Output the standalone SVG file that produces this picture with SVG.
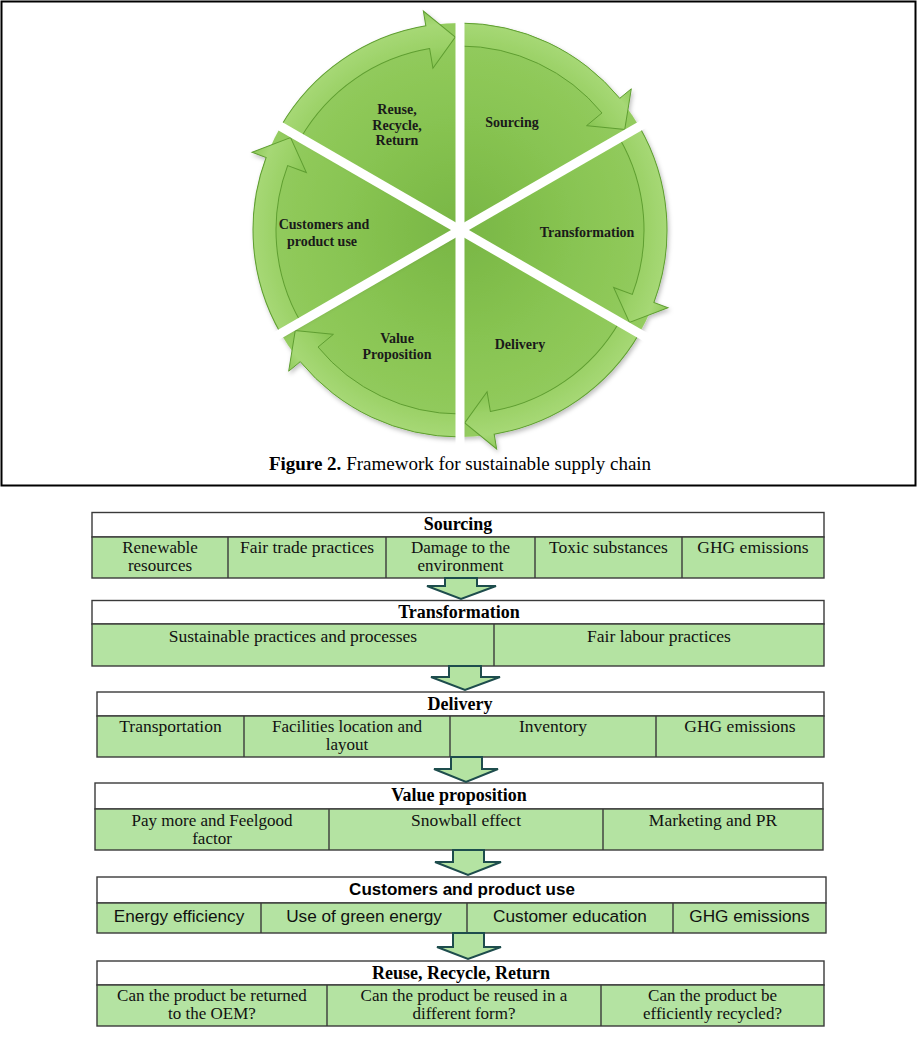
<svg xmlns="http://www.w3.org/2000/svg" width="917" height="1059" viewBox="0 0 917 1059">
<style>
.pt{font-family:"Liberation Serif","Times New Roman",serif;font-weight:bold;font-size:14px;fill:#1a1a1a;text-anchor:middle}
.hd{font-family:"Liberation Serif","Times New Roman",serif;font-weight:bold;font-size:18px;fill:#000;text-anchor:middle}
.cl{font-family:"Liberation Serif","Times New Roman",serif;font-size:17.5px;fill:#111;text-anchor:middle}
.cl2{font-family:"Liberation Serif","Times New Roman",serif;font-size:17px;fill:#111;text-anchor:middle}
.hds{font-family:"Liberation Sans",Arial,sans-serif;font-weight:bold;font-size:17px;fill:#000;text-anchor:middle}
.cls{font-family:"Liberation Sans",Arial,sans-serif;font-size:17.2px;fill:#111;text-anchor:middle}
.hbox{fill:#fff;stroke:#3a3a3a;stroke-width:1.4}
.cbox{fill:#b4e3a2;stroke:#3a3a3a;stroke-width:1.4}
.dv{stroke:#3a3a3a;stroke-width:1.4}
.arr{fill:#b4e3a2;stroke:#1e4d4d;stroke-width:2;stroke-linejoin:miter}
.wedge{fill:url(#wg)}
.band{fill:url(#bg);stroke:#5f9e31;stroke-width:1}
.gap{stroke:#fff;stroke-width:9}
</style>
<defs>
<radialGradient id="wg" gradientUnits="userSpaceOnUse" cx="460" cy="230" r="207">
<stop offset="0" stop-color="#78b644"/>
<stop offset="0.55" stop-color="#88c452"/>
<stop offset="1" stop-color="#94cc5f"/>
</radialGradient>
<radialGradient id="bg" gradientUnits="userSpaceOnUse" cx="460" cy="230" r="222">
<stop offset="0.74" stop-color="#86c451"/>
<stop offset="0.83" stop-color="#9bd167"/>
<stop offset="0.93" stop-color="#a6d875"/>
<stop offset="1" stop-color="#8fca5b"/>
</radialGradient>
<filter id="sh" x="-10%" y="-10%" width="120%" height="120%">
<feDropShadow dx="1.5" dy="2.5" stdDeviation="2" flood-color="#000" flood-opacity="0.25"/>
</filter>
<g id="sector">
<path class="wedge" d="M460,230 L460,23 A207,207 0 0 1 639.27,126.5 Z"/>
<path class="band" d="M460,23 A207,207 0 0 1 619.73,98.33 L631.30,88.79 L624.74,129.45 L586.55,125.68 L601.98,112.96 A184,184 0 0 0 460,46 Z"/>
</g>
</defs>
<rect x="0" y="0" width="917" height="1059" fill="#fff"/>
<rect x="1.5" y="1.5" width="914" height="484" fill="none" stroke="#000" stroke-width="2"/>

<g id="pie">
<g id="sec-sourcing" filter="url(#sh)"><use href="#sector"/></g>
<g id="sec-transformation" filter="url(#sh)"><use href="#sector" transform="rotate(60 460 230)"/></g>
<g id="sec-delivery" filter="url(#sh)"><use href="#sector" transform="rotate(120 460 230)"/></g>
<g id="sec-value" filter="url(#sh)"><use href="#sector" transform="rotate(180 460 230)"/></g>
<g id="sec-customers" filter="url(#sh)"><use href="#sector" transform="rotate(240 460 230)"/></g>
<g id="sec-reuse" filter="url(#sh)"><use href="#sector" transform="rotate(300 460 230)"/></g>
<g id="gaps">
<line class="gap" x1="460" y1="6" x2="460" y2="454"/>
<line class="gap" x1="266" y1="118" x2="654" y2="342"/>
<line class="gap" x1="266" y1="342" x2="654" y2="118"/>
</g>
<g id="pie-labels">
<text class="pt" x="397" y="114">Reuse,</text>
<text class="pt" x="397" y="129.5">Recycle,</text>
<text class="pt" x="397" y="145">Return</text>
<text class="pt" x="512" y="127">Sourcing</text>
<text class="pt" x="587" y="237">Transformation</text>
<text class="pt" x="520" y="349">Delivery</text>
<text class="pt" x="397" y="343">Value</text>
<text class="pt" x="397" y="359">Proposition</text>
<text class="pt" x="324" y="229">Customers and</text>
<text class="pt" x="322" y="246">product use</text>
</g>
</g>

<text id="caption" x="460" y="470" font-family="'Liberation Serif','Times New Roman',serif" font-size="19" text-anchor="middle" fill="#000"><tspan font-weight="bold">Figure 2.</tspan> Framework for sustainable supply chain</text>

<g id="t-sourcing">
<rect class="hbox" x="92" y="512.5" width="732" height="24.5"/>
<rect class="cbox" x="92" y="537" width="732" height="41"/>
<line class="dv" x1="228" y1="537" x2="228" y2="578"/>
<line class="dv" x1="386" y1="537" x2="386" y2="578"/>
<line class="dv" x1="535" y1="537" x2="535" y2="578"/>
<line class="dv" x1="682" y1="537" x2="682" y2="578"/>
<text class="hd" x="458" y="530">Sourcing</text>
<text class="cl2" x="160" y="552.5">Renewable</text>
<text class="cl2" x="160" y="571">resources</text>
<text class="cl" x="307" y="553">Fair trade practices</text>
<text class="cl2" x="460.5" y="552.5">Damage to the</text>
<text class="cl2" x="460.5" y="571">environment</text>
<text class="cl" x="608.5" y="553">Toxic substances</text>
<text class="cl" x="753" y="553">GHG emissions</text>
</g>

<g id="t-transformation">
<rect class="hbox" x="92" y="600.5" width="732" height="23.5"/>
<rect class="cbox" x="92" y="624" width="732" height="42"/>
<line class="dv" x1="494" y1="624" x2="494" y2="666"/>
<text class="hd" x="459" y="618">Transformation</text>
<text class="cl" x="293" y="641.5">Sustainable practices and processes</text>
<text class="cl" x="659" y="641.5">Fair labour practices</text>
</g>

<g id="t-delivery">
<rect class="hbox" x="97" y="692" width="727" height="24"/>
<rect class="cbox" x="97" y="716" width="727" height="41"/>
<line class="dv" x1="244" y1="716" x2="244" y2="757"/>
<line class="dv" x1="450" y1="716" x2="450" y2="757"/>
<line class="dv" x1="656" y1="716" x2="656" y2="757"/>
<text class="hd" x="460" y="710">Delivery</text>
<text class="cl" x="170.5" y="732">Transportation</text>
<text class="cl2" x="347" y="731.5">Facilities location and</text>
<text class="cl2" x="347" y="750">layout</text>
<text class="cl" x="553" y="732">Inventory</text>
<text class="cl" x="740" y="732">GHG emissions</text>
</g>

<g id="t-value">
<rect class="hbox" x="95" y="783" width="728" height="26"/>
<rect class="cbox" x="95" y="809" width="728" height="41"/>
<line class="dv" x1="329" y1="809" x2="329" y2="850"/>
<line class="dv" x1="603" y1="809" x2="603" y2="850"/>
<text class="hd" x="459" y="801">Value proposition</text>
<text class="cl2" x="212" y="825.5">Pay more and Feelgood</text>
<text class="cl2" x="212" y="844">factor</text>
<text class="cl" x="466" y="826">Snowball effect</text>
<text class="cl" x="713" y="826">Marketing and PR</text>
</g>

<g id="t-customers">
<rect class="hbox" x="97" y="877" width="729" height="26"/>
<rect class="cbox" x="97" y="903" width="729" height="30"/>
<line class="dv" x1="261" y1="903" x2="261" y2="933"/>
<line class="dv" x1="467" y1="903" x2="467" y2="933"/>
<line class="dv" x1="673" y1="903" x2="673" y2="933"/>
<text class="hds" x="462" y="895">Customers and product use</text>
<text class="cls" x="179" y="922">Energy efficiency</text>
<text class="cls" x="364" y="922">Use of green energy</text>
<text class="cls" x="570" y="922">Customer education</text>
<text class="cls" x="749.5" y="922">GHG emissions</text>
</g>

<g id="t-reuse">
<rect class="hbox" x="97" y="961" width="727" height="24"/>
<rect class="cbox" x="97" y="985" width="727" height="41"/>
<line class="dv" x1="327" y1="985" x2="327" y2="1026"/>
<line class="dv" x1="601" y1="985" x2="601" y2="1026"/>
<text class="hd" x="461" y="979">Reuse, Recycle, Return</text>
<text class="cl2" x="212" y="1000.5">Can the product be returned</text>
<text class="cl2" x="212" y="1019">to the OEM?</text>
<text class="cl2" x="464" y="1000.5">Can the product be reused in a</text>
<text class="cl2" x="464" y="1019">different form?</text>
<text class="cl2" x="712.5" y="1000.5">Can the product be</text>
<text class="cl2" x="712.5" y="1019">efficiently recycled?</text>
</g>

<g id="connectors">
<polygon class="arr" points="445,578 477,578 477,586 496,586 461,599 427,586 445,586"/>
<polygon class="arr" points="449,666 481,666 481,677 500,677 465,690 431,677 449,677"/>
<polygon class="arr" points="451,757 482,757 482,769 498,769 466,782 434,769 451,769"/>
<polygon class="arr" points="453,850 484,850 484,862 501,862 468,875 435,862 453,862"/>
<polygon class="arr" points="453,933 484,933 484,947 501,947 468,959 437,947 453,947"/>
</g>
</svg>
